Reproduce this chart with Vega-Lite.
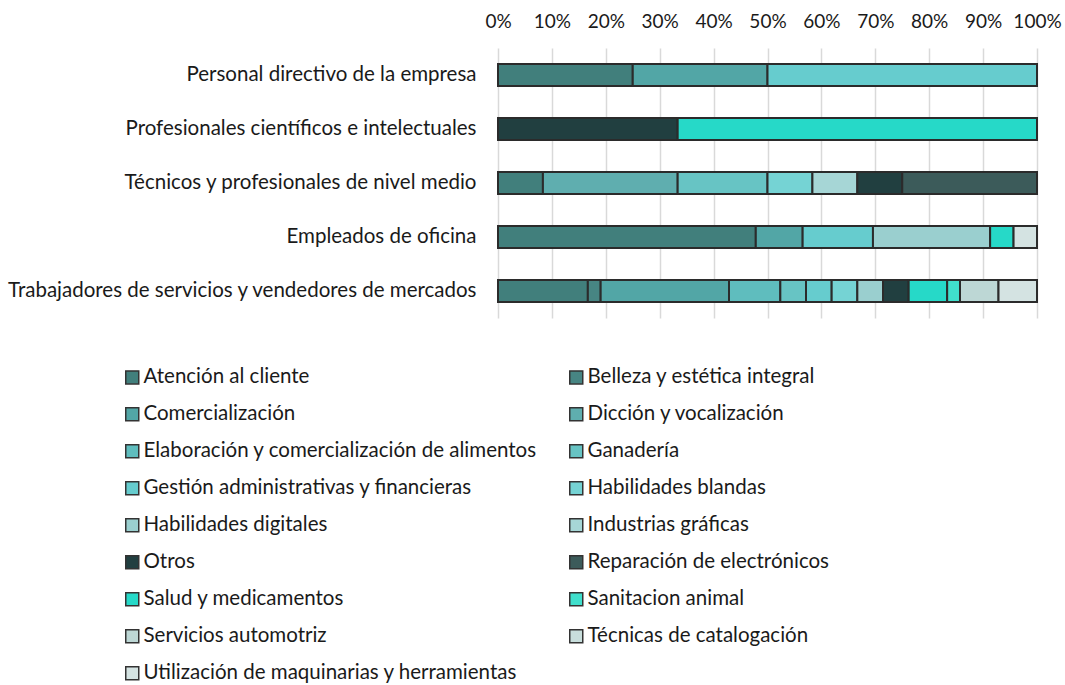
{
  "$schema": "https://vega.github.io/schema/vega-lite/v6.json",
  "width": 539,
  "height": 270,
  "autosize": {"type": "none"},
  "padding": {"left": 498, "top": 48, "right": 28, "bottom": 367},
  "background": "white",
  "config": {
    "view": {"stroke": null},
    "font": "Lato"
  },
  "data": {
    "values": [
      {"ocupacion": "Personal directivo de la empresa", "curso": "Atención al cliente", "n": 1},
      {"ocupacion": "Personal directivo de la empresa", "curso": "Comercialización", "n": 1},
      {"ocupacion": "Personal directivo de la empresa", "curso": "Gestión administrativas y financieras", "n": 2},
      {"ocupacion": "Profesionales científicos e intelectuales", "curso": "Otros", "n": 1},
      {"ocupacion": "Profesionales científicos e intelectuales", "curso": "Salud y medicamentos", "n": 2},
      {"ocupacion": "Técnicos y profesionales de nivel medio", "curso": "Atención al cliente", "n": 1},
      {"ocupacion": "Técnicos y profesionales de nivel medio", "curso": "Dicción y vocalización", "n": 3},
      {"ocupacion": "Técnicos y profesionales de nivel medio", "curso": "Ganadería", "n": 2},
      {"ocupacion": "Técnicos y profesionales de nivel medio", "curso": "Habilidades blandas", "n": 1},
      {"ocupacion": "Técnicos y profesionales de nivel medio", "curso": "Industrias gráficas", "n": 1},
      {"ocupacion": "Técnicos y profesionales de nivel medio", "curso": "Otros", "n": 1},
      {"ocupacion": "Técnicos y profesionales de nivel medio", "curso": "Reparación de electrónicos", "n": 3},
      {"ocupacion": "Empleados de oficina", "curso": "Atención al cliente", "n": 11},
      {"ocupacion": "Empleados de oficina", "curso": "Comercialización", "n": 2},
      {"ocupacion": "Empleados de oficina", "curso": "Gestión administrativas y financieras", "n": 3},
      {"ocupacion": "Empleados de oficina", "curso": "Habilidades digitales", "n": 5},
      {"ocupacion": "Empleados de oficina", "curso": "Salud y medicamentos", "n": 1},
      {"ocupacion": "Empleados de oficina", "curso": "Utilización de maquinarias y herramientas", "n": 1},
      {"ocupacion": "Trabajadores de servicios y vendedores de mercados", "curso": "Atención al cliente", "n": 7},
      {"ocupacion": "Trabajadores de servicios y vendedores de mercados", "curso": "Belleza y estética integral", "n": 1},
      {"ocupacion": "Trabajadores de servicios y vendedores de mercados", "curso": "Comercialización", "n": 10},
      {"ocupacion": "Trabajadores de servicios y vendedores de mercados", "curso": "Elaboración y comercialización de alimentos", "n": 4},
      {"ocupacion": "Trabajadores de servicios y vendedores de mercados", "curso": "Ganadería", "n": 2},
      {"ocupacion": "Trabajadores de servicios y vendedores de mercados", "curso": "Gestión administrativas y financieras", "n": 2},
      {"ocupacion": "Trabajadores de servicios y vendedores de mercados", "curso": "Habilidades blandas", "n": 2},
      {"ocupacion": "Trabajadores de servicios y vendedores de mercados", "curso": "Habilidades digitales", "n": 2},
      {"ocupacion": "Trabajadores de servicios y vendedores de mercados", "curso": "Otros", "n": 2},
      {"ocupacion": "Trabajadores de servicios y vendedores de mercados", "curso": "Salud y medicamentos", "n": 3},
      {"ocupacion": "Trabajadores de servicios y vendedores de mercados", "curso": "Sanitacion animal", "n": 1},
      {"ocupacion": "Trabajadores de servicios y vendedores de mercados", "curso": "Servicios automotriz", "n": 3},
      {"ocupacion": "Trabajadores de servicios y vendedores de mercados", "curso": "Utilización de maquinarias y herramientas", "n": 3}
    ]
  },
  "mark": {"type": "bar", "size": 22, "stroke": "#2b2b2b", "strokeWidth": 2},
  "encoding": {
    "y": {
      "field": "ocupacion",
      "type": "nominal",
      "sort": null,
      "axis": {
        "title": null,
        "domain": false,
        "ticks": false,
        "labelPadding": 22,
        "labelFontSize": 20.5,
        "labelColor": "#1a1a1a",
        "labelLimit": 600
      }
    },
    "x": {
      "field": "n",
      "type": "quantitative",
      "stack": "normalize",
      "scale": {"domain": [0, 1], "nice": false},
      "axis": {
        "orient": "top",
        "title": null,
        "format": ".0%",
        "values": [0, 0.1, 0.2, 0.3, 0.4, 0.5, 0.6, 0.7, 0.8, 0.9, 1],
        "domain": false,
        "ticks": false,
        "labelPadding": 17,
        "labelFontSize": 19,
        "labelColor": "#1a1a1a",
        "grid": true,
        "gridColor": "#d9d9d9",
        "gridWidth": 1.5,
        "labelFlush": false
      }
    },
    "color": {
      "field": "curso",
      "type": "nominal",
      "scale": {
        "domain": [
          "Atención al cliente",
          "Belleza y estética integral",
          "Comercialización",
          "Dicción y vocalización",
          "Elaboración y comercialización de alimentos",
          "Ganadería",
          "Gestión administrativas y financieras",
          "Habilidades blandas",
          "Habilidades digitales",
          "Industrias gráficas",
          "Otros",
          "Reparación de electrónicos",
          "Salud y medicamentos",
          "Sanitacion animal",
          "Servicios automotriz",
          "Técnicas de catalogación",
          "Utilización de maquinarias y herramientas"
        ],
        "range": [
          "#417f7c", "#478583", "#52a6a6", "#5faeaf", "#5fbdbe", "#67c4c4",
          "#66ccce", "#75d3d4", "#9acfcf", "#a6d6d6", "#213f40", "#3c5b5a",
          "#26d9c8", "#40dfcc", "#bdd7d5", "#c8dedc", "#d4e3e2"
        ]
      },
      "legend": {
        "title": null,
        "orient": "none",
        "direction": "horizontal",
        "legendX": -376,
        "legendY": 319,
        "columns": 2,
        "columnPadding": 28,
        "rowPadding": 16,
        "symbolType": "square",
        "symbolSize": 169,
        "symbolStrokeColor": "#333333",
        "symbolStrokeWidth": 1.5,
        "symbolOpacity": 1,
        "labelFontSize": 20.5,
        "labelColor": "#1a1a1a",
        "labelOffset": 1,
        "labelLimit": 500
      }
    }
  }
}
